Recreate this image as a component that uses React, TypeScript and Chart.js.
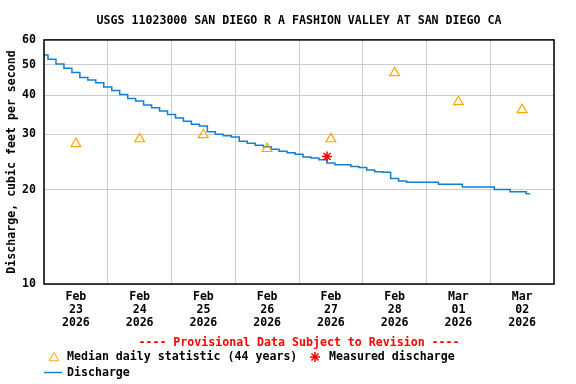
import React, { useEffect, useRef } from 'react';
import { Chart, registerables } from 'chart.js';

Chart.register(...registerables);

const TITLE = 'USGS 11023000 SAN DIEGO R A FASHION VALLEY AT SAN DIEGO CA';
const Y_TITLE = 'Discharge, cubic feet per second';
const PROVISIONAL = '---- Provisional Data Subject to Revision ----';
const LEGEND_MEDIAN = 'Median daily statistic (44 years)';
const LEGEND_MEASURED = 'Measured discharge';
const LEGEND_DISCHARGE = 'Discharge';

const DAY_MONTHS = ['Feb', 'Feb', 'Feb', 'Feb', 'Feb', 'Feb', 'Mar', 'Mar'];
const DAY_NUMS = ['23', '24', '25', '26', '27', '28', '01', '02'];
const DAY_YEAR = '2026';
const Y_TICKS = [10, 20, 30, 40, 50, 60];

// x in days since Feb 23 00:00
const MEDIAN_DAYS = [0.5, 1.5, 2.5, 3.5, 4.5, 5.5, 6.5, 7.5];
const MEDIAN_VALUES = [28.0, 29.0, 29.9, 27.0, 29.0, 47.1, 38.1, 35.9];

const MEASURED_DAYS = [4.44];
const MEASURED_VALUES = [25.5];

// discharge, cfs, sampled every 3 hours from Feb 23 00:00
const DISCHARGE_VALUES = [
  53.7, 52.1, 50.3, 48.7, 47.2, 45.5, 44.7, 43.8,
  42.5, 41.4, 40.2, 39.0, 38.3, 37.2, 36.5, 35.6,
  34.7, 33.8, 33.0, 32.3, 31.9, 30.6, 30.0, 29.7,
  29.4, 28.5, 28.1, 27.7, 27.4, 26.9, 26.5, 26.2,
  25.9, 25.4, 25.2, 24.9, 24.3, 24.0, 24.0, 23.7,
  23.5, 23.1, 22.8, 22.7, 21.7, 21.3, 21.1, 21.1,
  21.1, 21.1, 20.8, 20.8, 20.8, 20.4, 20.4, 20.4,
  20.4, 20.0, 20.0, 19.7, 19.7, 19.4,
];
const DISCHARGE_HOURS = DISCHARGE_VALUES.map((_, i) => i * 3);

const FONT_FAMILY = "'DejaVu Sans Mono', 'Liberation Mono', monospace";
const FONT_SIZE = 11.6;
const LINE_BLUE = '#1080d0';
const MEDIAN_ORANGE = '#ffa500';
const MEASURED_RED = '#ff0000';
const GRID_GRAY = '#cccccc';

const framePlugin = {
  id: 'frame',
  afterDatasetsDraw(chart: any) {
    const { ctx, chartArea } = chart;
    ctx.save();
    ctx.strokeStyle = '#000';
    ctx.lineWidth = 1.5;
    ctx.strokeRect(chartArea.left, chartArea.top, chartArea.right - chartArea.left, chartArea.bottom - chartArea.top);
    ctx.restore();
  },
};

function drawTriangle(ctx: CanvasRenderingContext2D, x: number, y: number, r: number) {
  ctx.beginPath();
  ctx.moveTo(x, y - r);
  ctx.lineTo(x + r * Math.sqrt(3) / 2, y + r / 2);
  ctx.lineTo(x - r * Math.sqrt(3) / 2, y + r / 2);
  ctx.closePath();
  ctx.stroke();
}

function drawStar(ctx: CanvasRenderingContext2D, x: number, y: number, r: number) {
  ctx.beginPath();
  for (let i = 0; i < 4; i++) {
    const a = (i * Math.PI) / 4;
    ctx.moveTo(x + Math.cos(a) * r, y + Math.sin(a) * r);
    ctx.lineTo(x - Math.cos(a) * r, y - Math.sin(a) * r);
  }
  ctx.stroke();
}

const legendPlugin = {
  id: 'usgsLegend',
  afterDraw(chart: any) {
    const { ctx, chartArea } = chart;
    const cx = (chartArea.left + chartArea.right) / 2;
    ctx.save();
    ctx.font = `bold ${FONT_SIZE}px ${FONT_FAMILY}`;
    ctx.textBaseline = 'middle';
    ctx.textAlign = 'center';
    ctx.fillStyle = MEASURED_RED;
    ctx.fillText(PROVISIONAL, cx, 343);

    ctx.textAlign = 'left';
    ctx.fillStyle = '#000';
    // row 1
    ctx.strokeStyle = MEDIAN_ORANGE;
    ctx.lineWidth = 1;
    drawTriangle(ctx, 54, 358, 5.6);
    ctx.fillText(LEGEND_MEDIAN, 67, 357);
    ctx.strokeStyle = MEASURED_RED;
    ctx.lineWidth = 1.5;
    drawStar(ctx, 315, 357, 5);
    ctx.fillText(LEGEND_MEASURED, 329, 357);
    // row 2
    ctx.strokeStyle = LINE_BLUE;
    ctx.lineWidth = 1.5;
    ctx.beginPath();
    ctx.moveTo(44, 372.5);
    ctx.lineTo(62, 372.5);
    ctx.stroke();
    ctx.fillText(LEGEND_DISCHARGE, 67, 373);
    ctx.restore();
  },
};

export default function App() {
  const canvasRef = useRef<HTMLCanvasElement | null>(null);

  useEffect(() => {
    if (!canvasRef.current) return;
    const font = { family: FONT_FAMILY, size: FONT_SIZE, weight: 'bold' as const };
    const chart = new Chart(canvasRef.current, {
      type: 'line',
      data: {
        datasets: [
          {
            label: LEGEND_MEASURED,
            data: MEASURED_DAYS.map((d, i) => ({ x: d, y: MEASURED_VALUES[i] })),
            showLine: false,
            pointStyle: 'star',
            pointRadius: 5,
            pointBorderColor: MEASURED_RED,
            pointBackgroundColor: MEASURED_RED,
            pointBorderWidth: 1.5,
            borderColor: MEASURED_RED,
            order: 1,
          },
          {
            label: LEGEND_MEDIAN,
            data: MEDIAN_DAYS.map((d, i) => ({ x: d, y: MEDIAN_VALUES[i] })),
            showLine: false,
            pointStyle: 'triangle',
            pointRadius: 5.6,
            pointBorderColor: MEDIAN_ORANGE,
            pointBackgroundColor: 'rgba(0,0,0,0)',
            pointBorderWidth: 1.2,
            borderColor: MEDIAN_ORANGE,
            order: 2,
          },
          {
            label: LEGEND_DISCHARGE,
            data: DISCHARGE_HOURS.map((h, i) => ({ x: h / 24, y: DISCHARGE_VALUES[i] })),
            stepped: 'middle',
            borderColor: LINE_BLUE,
            borderWidth: 1.5,
            pointRadius: 0,
            fill: false,
            order: 3,
          },
        ],
      },
      options: {
        responsive: false,
        animation: false,
        devicePixelRatio: 1,
        layout: { padding: { left: 0, right: 22, top: 0, bottom: 0 } },
        plugins: {
          legend: { display: false },
          tooltip: { enabled: false },
          title: {
            display: true,
            text: TITLE,
            fullSize: false,
            color: '#000',
            font,
            padding: { top: 14, bottom: 12 },
          },
        },
        scales: {
          x: {
            type: 'linear',
            min: 0,
            max: 8,
            afterBuildTicks: (scale: any) => {
              const t = [];
              for (let i = 0; i <= 16; i++) t.push({ value: i / 2 });
              scale.ticks = t;
            },
            afterFit: (scale: any) => {
              scale.height = 100;
            },
            border: { display: false },
            grid: {
              drawTicks: false,
              color: (ctx: any) =>
                ctx.tick && Math.abs(ctx.tick.value % 1) < 1e-6 ? GRID_GRAY : 'rgba(0,0,0,0)',
              lineWidth: 1,
            },
            ticks: {
              autoSkip: false,
              maxRotation: 0,
              minRotation: 0,
              padding: 7,
              color: '#000',
              font: { ...font, lineHeight: 1.1 },
              callback: (value: any) => {
                const v = Number(value);
                if (Math.abs((v % 1) - 0.5) > 1e-6) return '';
                const idx = Math.floor(v);
                return [DAY_MONTHS[idx], DAY_NUMS[idx], DAY_YEAR];
              },
            },
          },
          y: {
            type: 'logarithmic',
            min: 10,
            max: 60,
            afterBuildTicks: (scale: any) => {
              scale.ticks = Y_TICKS.map((v) => ({ value: v }));
            },
            afterFit: (scale: any) => {
              scale.width = 44;
            },
            border: { display: false },
            grid: { drawTicks: false, color: GRID_GRAY, lineWidth: 1 },
            ticks: {
              autoSkip: false,
              padding: 8,
              color: '#000',
              font,
              callback: (value: any) => String(value),
            },
            title: {
              display: true,
              text: Y_TITLE,
              color: '#000',
              font,
              padding: { top: 5, bottom: 0 },
            },
          },
        },
      },
      plugins: [framePlugin, legendPlugin],
    });
    return () => chart.destroy();
  }, []);

  return (
    <div style={{ position: 'absolute', left: 0, top: 0, width: 576, height: 384, background: '#fff' }}>
      <canvas ref={canvasRef} width={576} height={384} style={{ display: 'block' }} />
    </div>
  );
}
